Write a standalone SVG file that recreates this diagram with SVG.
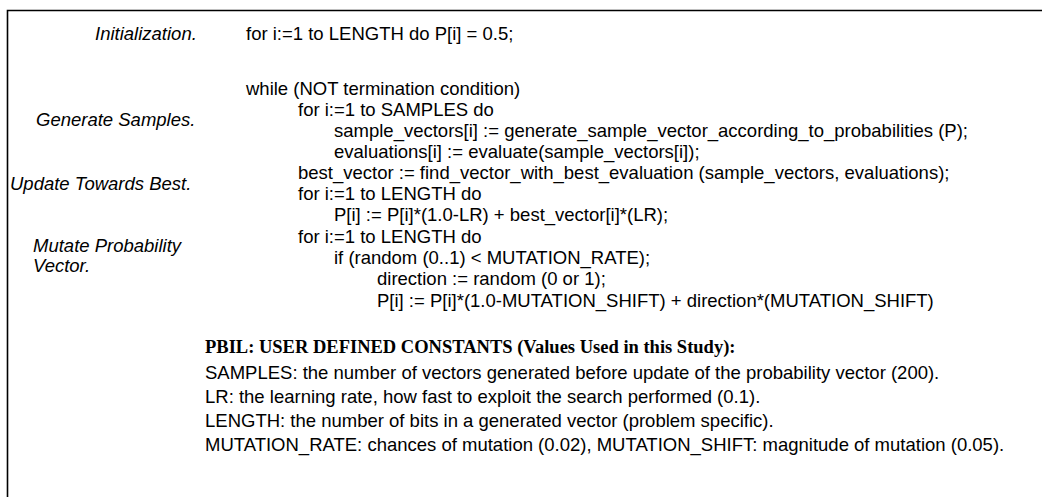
<svg xmlns="http://www.w3.org/2000/svg" width="1042" height="497" viewBox="0 0 1042 497">
<style>
.c{font-family:"Liberation Sans",Arial,sans-serif;font-size:18.5px;fill:#000}
.l{font-family:"Liberation Sans",Arial,sans-serif;font-size:18.5px;font-style:italic;fill:#000}
.h{font-family:"Liberation Serif","Times New Roman",serif;font-size:18.5px;font-weight:bold;fill:#000}
</style>
<rect width="1042" height="497" fill="#fff"/>
<g id="frame"><path d="M7.5,505 V10.5 H1050" fill="none" stroke="#000" stroke-width="1.6"/></g>
<g id="labels">
<text class="l" x="95" y="39.5">Initialization.</text>
<text class="l" x="36" y="125.5">Generate Samples.</text>
<text class="l" x="10" y="189.5">Update Towards Best.</text>
<text class="l" x="33" y="252">Mutate Probability</text>
<text class="l" x="33" y="272">Vector.</text>
</g>
<g id="code">
<text class="c" x="246" y="39.5">for i:=1 to LENGTH do P[i] = 0.5;</text>
<text class="c" x="246" y="94.5">while (NOT termination condition)</text>
<text class="c" x="298" y="115.5">for i:=1 to SAMPLES do</text>
<text class="c" x="334" y="136.5">sample_vectors[i] := generate_sample_vector_according_to_probabilities (P);</text>
<text class="c" x="334" y="157.5">evaluations[i] := evaluate(sample_vectors[i]);</text>
<text class="c" x="298" y="179">best_vector := find_vector_with_best_evaluation (sample_vectors, evaluations);</text>
<text class="c" x="298" y="200">for i:=1 to LENGTH do</text>
<text class="c" x="334" y="221">P[i] := P[i]*(1.0-LR) + best_vector[i]*(LR);</text>
<text class="c" x="298" y="243">for i:=1 to LENGTH do</text>
<text class="c" x="334" y="264">if (random (0..1) &lt; MUTATION_RATE);</text>
<text class="c" x="377" y="285">direction := random (0 or 1);</text>
<text class="c" x="377" y="307">P[i] := P[i]*(1.0-MUTATION_SHIFT) + direction*(MUTATION_SHIFT)</text>
</g>
<g id="constants">
<text class="h" x="205" y="353">PBIL: USER DEFINED CONSTANTS (Values Used in this Study):</text>
<text class="c" x="205" y="379">SAMPLES: the number of vectors generated before update of the probability vector (200).</text>
<text class="c" x="205" y="403">LR: the learning rate, how fast to exploit the search performed (0.1).</text>
<text class="c" x="205" y="427">LENGTH: the number of bits in a generated vector (problem specific).</text>
<text class="c" x="205" y="451">MUTATION_RATE: chances of mutation (0.02), MUTATION_SHIFT: magnitude of mutation (0.05).</text>
</g>
</svg>
